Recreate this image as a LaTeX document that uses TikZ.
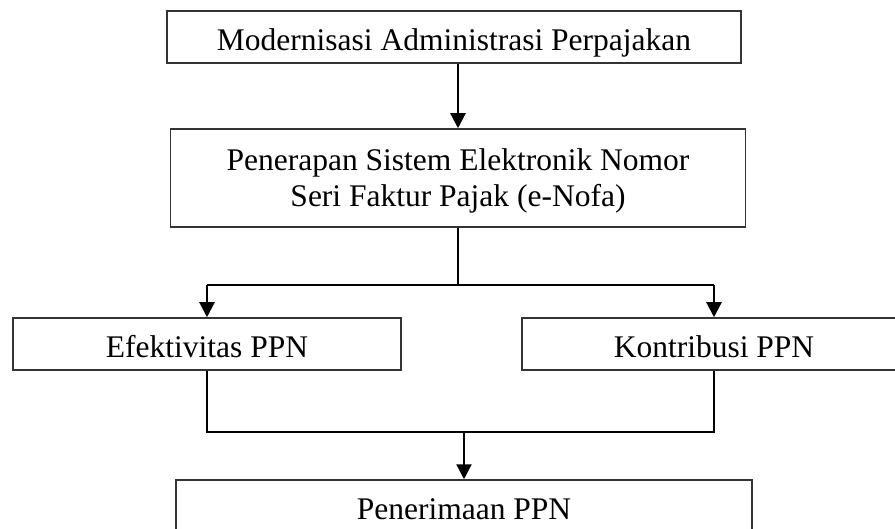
\documentclass[tikz,border=0pt]{standalone}
\usepackage{fontspec}
\setmainfont{Liberation Serif}
\usetikzlibrary{arrows.meta}
\begin{document}
\begin{tikzpicture}[x=1pt,y=-1pt,
  box/.style={draw=black!80, line width=1.5pt, rectangle, inner sep=2pt,
    font=\fontsize{31.5}{35.5}\selectfont, text height=34pt, text depth=7pt},
  twoline/.style={align=center, text height=63.5pt, text depth=7pt},
  conn/.style={draw=black, line width=2.2pt},
  arr/.style={conn, -{Triangle[length=15pt,width=15pt]}}]
\clip (0,0) rectangle (895,529);
\node[box, minimum width=574pt, minimum height=52pt] (b1) at (454,37) {Modernisasi Administrasi Perpajakan};
\node[box, twoline, minimum width=575pt, minimum height=98pt] (b2) at (458,178) {Penerapan Sistem Elektronik Nomor\\Seri Faktur Pajak (e-Nofa)};
\node[box, minimum width=388pt, minimum height=52pt] (b3) at (207,344) {Efektivitas PPN};
\node[box, minimum width=384pt, minimum height=52pt] (b4) at (714,344) {Kontribusi PPN};
\node[box, minimum width=576pt, minimum height=52pt] (b5) at (464,506) {Penerimaan PPN};
\coordinate (split) at (b2.south |- 0,285);
\coordinate (join) at (b5.north |- 0,432);
\draw[arr] (b2.north |- b1.south) -- (b2.north);
\draw[conn] (b2.south) -- (split);
\draw[conn] (b3.north |- split) -- (b4.north |- split);
\draw[arr] (b3.north |- split) -- (b3.north);
\draw[arr] (b4.north |- split) -- (b4.north);
\draw[conn] (b3.south) |- (join) -| (b4.south);
\draw[arr] (join) -- (b5.north);
\end{tikzpicture}
\end{document}
